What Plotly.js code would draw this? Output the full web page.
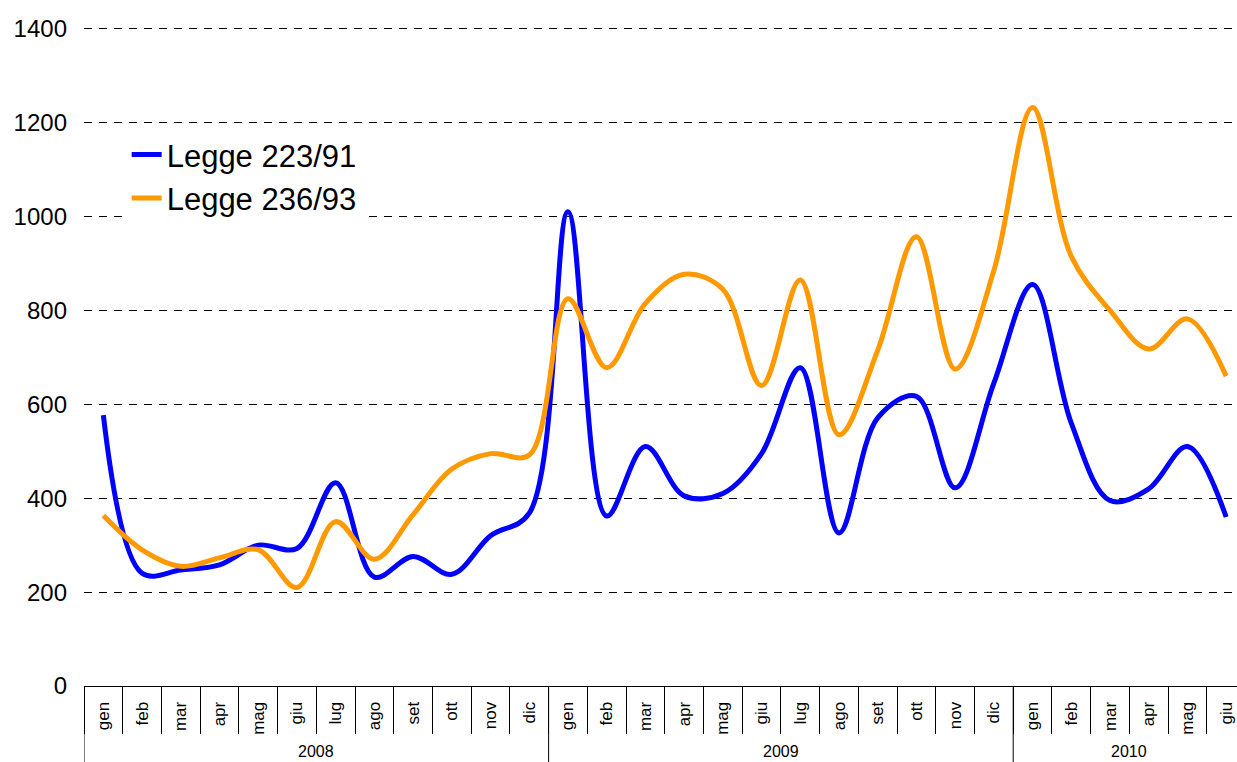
<!DOCTYPE html>
<html>
<head>
<meta charset="utf-8">
<script src="https://cdn.plot.ly/plotly-3.0.1.min.js"></script>
<style>
html,body{margin:0;padding:0;background:#fff;overflow:hidden;}
#chart{width:1237px;height:762px;}
</style>
</head>
<body>
<div id="chart"></div>
<script>
// ---- data ----
const months = ['gen','feb','mar','apr','mag','giu','lug','ago','set','ott','nov','dic',
                'gen','feb','mar','apr','mag','giu','lug','ago','set','ott','nov','dic',
                'gen','feb','mar','apr','mag','giu'];
const years = ['2008','2009','2010'];
const monthsPerYear = [12, 12, 6];
const seriesNames = ['Legge 223/91', 'Legge 236/93'];
const legge22391 = [577,240,247,258,300,293,433,232,276,238,320,368,
                    1010,362,510,405,410,495,678,326,571,617,422,645,
                    855,560,395,420,510,360];
const legge23693 = [363,290,255,273,290,210,350,270,365,462,495,492,
                    825,678,815,877,845,640,865,535,715,957,675,885,
                    1232,915,800,718,782,660];
const yTicks = [0,200,400,600,800,1000,1200,1400];

// ---- build ----
const idx = months.map((_, i) => i);
const font = 'Liberation Sans, Arial, sans-serif';

const traces = [
  {x: idx, y: legge22391, name: seriesNames[0], type: 'scatter', mode: 'lines',
   line: {color: '#0000FF', width: 5, shape: 'spline', smoothing: 1}},
  {x: idx, y: legge23693, name: seriesNames[1], type: 'scatter', mode: 'lines',
   line: {color: '#FF9900', width: 5, shape: 'spline', smoothing: 1}}
];

// year dividers and labels
const shapes = [];
const annotations = [];
let start = 0;
const bounds = [-0.5];
monthsPerYear.forEach((n, k) => {
  const center = start + (n - 1) / 2;
  annotations.push({x: center, xref: 'x', y: 0, yref: 'paper', yanchor: 'top',
    yshift: -56, text: years[k], showarrow: false, borderpad: 0,
    font: {family: font, size: 16, color: '#000'}});
  start += n;
  bounds.push(start - 0.5);
});
bounds.slice(0, -1).forEach(b => {
  shapes.push({type: 'line', xref: 'x', yref: 'paper', x0: b, x1: b, y0: 0, y1: -0.2,
    line: {color: '#000', width: 1}});
});

const boundaries = [];
for (let i = 0; i <= months.length; i++) boundaries.push(i - 0.5);

const layout = {
  width: 1237, height: 762,
  margin: {l: 84, r: 0, t: 24, b: 76, pad: 0},
  paper_bgcolor: '#fff', plot_bgcolor: '#fff',
  font: {family: font, color: '#000'},
  showlegend: true,
  legend: {x: 0.037, y: 0.843, xanchor: 'left', yanchor: 'top',
    bgcolor: '#fff', borderwidth: 0, font: {family: font, size: 31, color: '#000'},
    tracegroupgap: 0},
  xaxis: {
    type: 'linear', range: [-0.5, 29.28], fixedrange: true,
    showgrid: false, zeroline: false,
    showline: true, linecolor: '#000', linewidth: 1,
    tickmode: 'array', tickvals: idx, ticktext: months, tickangle: -90,
    ticks: '', ticklabelstandoff: 8,
    tickfont: {family: font, size: 17, color: '#000'},
    minor: {tickmode: 'array', tickvals: boundaries, ticks: 'outside', ticklen: 47,
      tickcolor: '#000', tickwidth: 1, showgrid: false}
  },
  yaxis: {
    range: [0, 1410], fixedrange: true,
    tickmode: 'array', tickvals: yTicks,
    showgrid: true, gridcolor: '#000', gridwidth: 1, griddash: '8px,7px',
    zeroline: false, showline: false, ticks: '',
    ticklabelstandoff: 16,
    tickfont: {family: font, size: 24, color: '#000'}
  },
  shapes: shapes,
  annotations: annotations
};

Plotly.newPlot('chart', traces, layout, {displayModeBar: false, staticPlot: true});
</script>
</body>
</html>
